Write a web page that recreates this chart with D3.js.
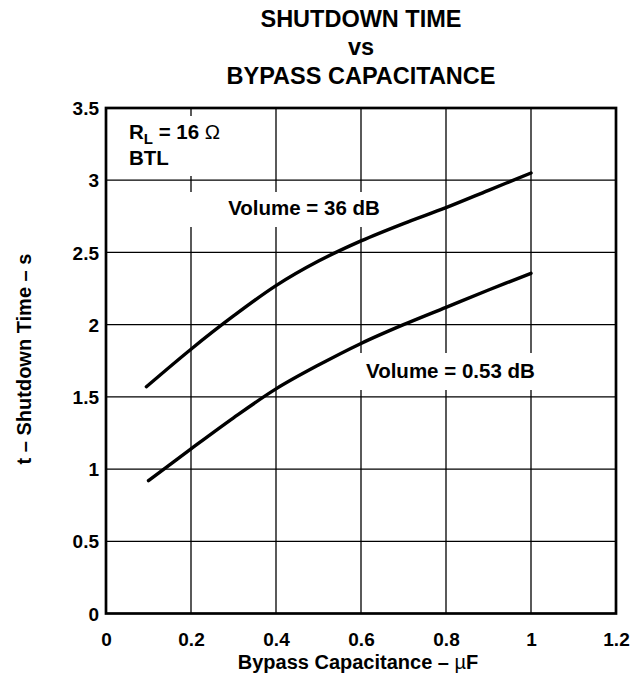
<!DOCTYPE html>
<html>
<head>
<meta charset="utf-8">
<script src="https://cdn.jsdelivr.net/npm/d3@7"></script>
<style>
  body { margin: 0; background: #fff; }
  svg { display: block; }
  text { font-family: "Liberation Sans", Arial, Helvetica, sans-serif; font-weight: bold; fill: #000; }
</style>
</head>
<body>
<div id="chart"></div>
<script>
// data
const capVol36 = [0.095, 0.2, 0.3, 0.4, 0.5, 0.6, 0.7, 0.8, 0.9, 1.0];
const timeVol36 = [1.57, 1.83, 2.06, 2.27, 2.44, 2.58, 2.70, 2.81, 2.93, 3.05];
const capVol053 = [0.1, 0.2, 0.3, 0.4, 0.5, 0.6, 0.7, 0.8, 0.9, 1.0];
const timeVol053 = [0.92, 1.14, 1.355, 1.555, 1.72, 1.87, 2.0, 2.12, 2.24, 2.355];
const xTicks = [0, 0.2, 0.4, 0.6, 0.8, 1, 1.2];
const yTicks = [0, 0.5, 1, 1.5, 2, 2.5, 3, 3.5];
const titleLines = ["SHUTDOWN TIME", "vs", "BYPASS CAPACITANCE"];

const width = 633, height = 677;
const margin = {left: 106, right: 17, top: 108, bottom: 63.5};

const svg = d3.select('#chart').append('svg')
  .attr('width', width)
  .attr('height', height);

let x = d3.scaleLinear().domain([0, 1.2]).range([margin.left, width - margin.right]);
let y = d3.scaleLinear().domain([0, 3.5]).range([height - margin.bottom, margin.top]);

// title
svg.selectAll('.title')
  .data(titleLines)
  .enter().append('text')
  .attr('class', 'title')
  .attr('x', 361)
  .attr('y', (d, i) => 26.5 + i * 28.5)
  .attr('text-anchor', 'middle')
  .style('font-size', '23.5px')
  .text(d => d);

// grid
let grid = svg.append('g');
grid.selectAll('.vgrid')
  .data(xTicks.slice(1, -1))
  .enter().append('line')
  .attr('x1', d => x(d)).attr('x2', d => x(d))
  .attr('y1', y(0)).attr('y2', y(3.5))
  .attr('stroke', '#000').attr('stroke-width', 1.3);
grid.selectAll('.hgrid')
  .data(yTicks.slice(1, -1))
  .enter().append('line')
  .attr('y1', d => y(d)).attr('y2', d => y(d))
  .attr('x1', x(0)).attr('x2', x(1.2))
  .attr('stroke', '#000').attr('stroke-width', 1.3);

// white boxes behind labels
const boxes = [
  {x: 124, y: 116, w: 104, h: 60},
  {x: 185, y: 192, w: 205, h: 35},
  {x: 358, y: 353, w: 185, h: 37}
];
svg.selectAll('.box')
  .data(boxes)
  .enter().append('rect')
  .attr('x', d => d.x).attr('y', d => d.y)
  .attr('width', d => d.w).attr('height', d => d.h)
  .attr('fill', '#fff');

// frame
svg.append('rect')
  .attr('x', x(0)).attr('y', y(3.5))
  .attr('width', x(1.2) - x(0))
  .attr('height', y(0) - y(3.5))
  .attr('fill', 'none')
  .attr('stroke', '#000')
  .attr('stroke-width', 2.7);

// axes tick labels
let xAxis = svg.append('g')
  .attr('transform', 'translate(0,' + y(0) + ')')
  .call(d3.axisBottom(x).tickValues(xTicks).tickSize(0).tickPadding(0).tickFormat(d3.format('')));
xAxis.select('.domain').remove();
xAxis.selectAll('text')
  .attr('dy', null)
  .attr('y', 32.5)
  .style('font-size', '19px');

let yAxis = svg.append('g')
  .attr('transform', 'translate(' + x(0) + ',0)')
  .call(d3.axisLeft(y).tickValues(yTicks).tickSize(0).tickPadding(0).tickFormat(d3.format('')));
yAxis.select('.domain').remove();
yAxis.selectAll('text')
  .attr('x', -7)
  .attr('dy', '0.35em')
  .style('font-size', '19px');

// curves
let line = d3.line()
  .x(d => x(d[0]))
  .y(d => y(d[1]))
  .curve(d3.curveCatmullRom.alpha(0.5));

[[capVol36, timeVol36], [capVol053, timeVol053]].forEach(function (s) {
  svg.append('path')
    .datum(d3.zip(s[0], s[1]))
    .attr('d', line)
    .attr('fill', 'none')
    .attr('stroke', '#000')
    .attr('stroke-width', 3.4)
    .attr('stroke-linecap', 'round')
    .attr('stroke-linejoin', 'round');
});

// labels in plot
let rl = svg.append('text')
  .attr('x', 129).attr('y', 138.5)
  .style('font-size', '20.5px');
rl.append('tspan').text('R');
rl.append('tspan').text('L').attr('dy', 5).style('font-size', '15px');
rl.append('tspan').text(' = 16 ').attr('dy', -5);
rl.append('tspan').text('Ω').style('font-weight', 'normal');

svg.append('text')
  .attr('x', 129).attr('y', 165)
  .style('font-size', '20.5px')
  .text('BTL');

svg.append('text')
  .attr('x', 304).attr('y', 215)
  .attr('text-anchor', 'middle')
  .style('font-size', '20.5px')
  .text('Volume = 36 dB');

svg.append('text')
  .attr('x', 366).attr('y', 377.5)
  .style('font-size', '20.5px')
  .text('Volume = 0.53 dB');

// axis titles
let xt = svg.append('text')
  .attr('x', 358).attr('y', 669)
  .attr('text-anchor', 'middle')
  .style('font-size', '20px');
xt.append('tspan').text('Bypass Capacitance – ');
xt.append('tspan').text('µ').style('font-weight', 'normal');
xt.append('tspan').text('F');

svg.append('text')
  .attr('transform', 'translate(31,359) rotate(-90)')
  .attr('text-anchor', 'middle')
  .style('font-size', '20px')
  .text('t – Shutdown Time – s');
</script>
</body>
</html>
